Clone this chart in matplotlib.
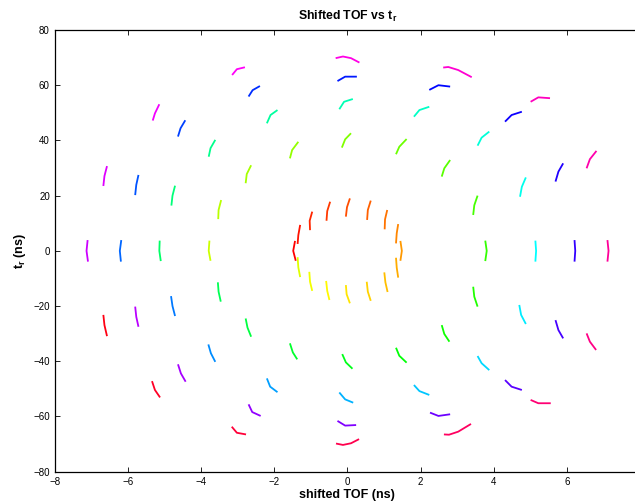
import numpy as np
import matplotlib
matplotlib.use('Agg')
import matplotlib.pyplot as plt
import matplotlib.colors as mcolors

plt.rcParams['font.family'] = ['Liberation Sans', 'DejaVu Sans']
plt.rcParams['mathtext.fontset'] = 'custom'
plt.rcParams['mathtext.rm'] = 'Liberation Sans:bold'
plt.rcParams['mathtext.it'] = 'Liberation Sans:bold'
plt.rcParams['mathtext.default'] = 'rm'

# each arc: points (shifted TOF, t_r)
# order in a ring: left, upper arcs left->right, right, lower arcs right->left
ring0 = [
    [(-1.43, 3.6), (-1.48, 0.0), (-1.41, -3.6)],
    [(-1.36, 2.5), (-1.34, 5.7), (-1.29, 9.4)],
    [(-1.02, 7.5), (-1.03, 10.9), (-0.96, 14.2)],
    [(-0.57, 10.9), (-0.55, 14.4), (-0.47, 17.8)],
    [(-0.04, 12.4), (-0.01, 15.8), (0.07, 19.0)],
    [(0.54, 11.2), (0.56, 14.8), (0.64, 18.2)],
    [(1.02, 7.8), (1.03, 11.4), (1.09, 14.8)],
    [(1.33, 2.7), (1.35, 6.4), (1.39, 9.7)],
    [(1.45, 3.6), (1.49, 0.0), (1.45, -3.6)],
    [(1.33, -2.5), (1.35, -6.1), (1.39, -9.7)],
    [(1.01, -7.8), (1.04, -11.4), (1.10, -14.9)],
    [(0.53, -11.2), (0.56, -14.8), (0.64, -18.1)],
    [(-0.04, -12.4), (-0.02, -15.7), (0.07, -19.0)],
    [(-0.58, -10.9), (-0.55, -14.5), (-0.49, -17.8)],
    [(-1.04, -7.6), (-1.02, -11.2), (-0.96, -14.5)],
    [(-1.36, -2.3), (-1.34, -6.0), (-1.29, -9.5)],
]
ring1 = [
    [(-3.77, 3.7), (-3.79, 0.0), (-3.74, -3.6)],
    [(-3.53, 11.5), (-3.52, 14.8), (-3.45, 18.4)],
    [(-2.78, 24.5), (-2.75, 27.8), (-2.63, 31.0)],
    [(-1.57, 33.5), (-1.51, 36.5), (-1.34, 39.5)],
    [(-0.15, 37.4), (-0.06, 40.4), (0.10, 42.6)],
    [(1.33, 35.0), (1.42, 37.7), (1.62, 40.5)],
    [(2.58, 26.9), (2.65, 29.9), (2.81, 32.9)],
    [(3.44, 13.0), (3.47, 16.5), (3.56, 20.0)],
    [(3.77, 3.7), (3.81, 0.0), (3.77, -3.7)],
    [(3.44, -13.0), (3.47, -16.6), (3.56, -20.2)],
    [(2.58, -26.9), (2.65, -30.1), (2.79, -32.9)],
    [(1.33, -35.1), (1.42, -38.0), (1.62, -40.5)],
    [(-0.14, -37.4), (-0.04, -40.4), (0.14, -42.7)],
    [(-1.57, -33.5), (-1.49, -36.8), (-1.37, -39.3)],
    [(-2.78, -24.5), (-2.73, -27.8), (-2.63, -31.1)],
    [(-3.54, -11.4), (-3.52, -14.8), (-3.46, -18.4)],
]
ring2 = [
    [(-5.13, 3.7), (-5.14, 0.0), (-5.10, -3.7)],
    [(-4.81, 16.4), (-4.78, 20.0), (-4.71, 23.6)],
    [(-3.79, 34.1), (-3.74, 37.2), (-3.61, 40.2)],
    [(-2.20, 46.2), (-2.10, 49.2), (-1.91, 51.0)],
    [(-0.22, 51.3), (-0.09, 54.0), (0.15, 55.0)],
    [(1.82, 48.6), (1.97, 51.0), (2.24, 52.2)],
    [(3.56, 38.1), (3.67, 41.0), (3.88, 43.2)],
    [(4.72, 19.6), (4.77, 23.2), (4.88, 26.6)],
    [(5.14, 3.7), (5.16, 0.0), (5.14, -3.9)],
    [(4.70, -19.6), (4.75, -23.2), (4.88, -26.5)],
    [(3.56, -38.1), (3.67, -40.7), (3.88, -43.2)],
    [(1.82, -48.6), (1.97, -50.8), (2.24, -52.2)],
    [(-0.22, -51.3), (-0.06, -53.8), (0.16, -55.0)],
    [(-2.20, -46.2), (-2.11, -49.2), (-1.91, -51.2)],
    [(-3.80, -33.9), (-3.73, -37.1), (-3.61, -40.2)],
    [(-4.82, -16.4), (-4.78, -20.0), (-4.71, -23.6)],
]
ring3 = [
    [(-6.18, 3.9), (-6.22, 0.0), (-6.19, -3.9)],
    [(-5.80, 20.2), (-5.77, 23.9), (-5.71, 27.5)],
    [(-4.63, 41.4), (-4.56, 44.4), (-4.43, 47.3)],
    [(-2.70, 55.9), (-2.59, 58.2), (-2.39, 59.7)],
    [(-0.27, 61.5), (-0.06, 63.1), (0.26, 63.1)],
    [(2.24, 58.3), (2.49, 60.0), (2.81, 59.5)],
    [(4.31, 46.8), (4.49, 49.2), (4.77, 50.4)],
    [(5.69, 25.1), (5.77, 28.7), (5.90, 31.7)],
    [(6.21, 3.9), (6.23, 0.0), (6.21, -3.9)],
    [(5.69, -25.1), (5.77, -28.7), (5.90, -31.7)],
    [(4.31, -46.8), (4.49, -49.2), (4.77, -50.4)],
    [(2.26, -58.6), (2.49, -59.8), (2.81, -59.2)],
    [(-0.27, -61.6), (-0.06, -63.3), (0.24, -63.1)],
    [(-2.70, -55.6), (-2.60, -58.4), (-2.37, -59.8)],
    [(-4.63, -41.1), (-4.55, -44.4), (-4.42, -47.4)],
    [(-5.80, -20.2), (-5.77, -23.9), (-5.71, -27.5)],
]
ring4 = [
    [(-7.10, 3.9), (-7.13, 0.0), (-7.09, -3.9)],
    [(-6.67, 23.5), (-6.64, 27.1), (-6.57, 30.7)],
    [(-5.32, 47.2), (-5.26, 49.8), (-5.14, 53.1)],
    [(-3.15, 63.7), (-3.02, 65.8), (-2.80, 66.5)],
    [(-0.32, 69.8), (-0.12, 70.4), (0.10, 69.8), (0.33, 68.2)],
    [(2.62, 66.4), (2.76, 66.6), (3.03, 65.5), (3.40, 62.9)],
    [(5.01, 54.0), (5.22, 55.6), (5.54, 55.3)],
    [(6.54, 29.9), (6.63, 33.2), (6.81, 36.2)],
    [(7.11, 3.9), (7.14, 0.0), (7.11, -3.9)],
    [(6.54, -29.9), (6.63, -32.9), (6.80, -35.9)],
    [(5.01, -54.0), (5.22, -55.2), (5.56, -55.2)],
    [(2.64, -66.5), (2.78, -66.6), (3.03, -65.5), (3.38, -62.7)],
    [(-0.31, -69.8), (-0.12, -70.3), (0.10, -69.7), (0.32, -68.2)],
    [(-3.16, -63.7), (-3.02, -65.9), (-2.77, -66.5)],
    [(-5.34, -47.2), (-5.26, -50.4), (-5.12, -53.1)],
    [(-6.67, -23.2), (-6.64, -26.9), (-6.57, -30.9)],
]
rings = [ring0, ring1, ring2, ring3, ring4]

x_ticks = [-8, -6, -4, -2, 0, 2, 4, 6]
y_ticks = [-80, -60, -40, -20, 0, 20, 40, 60, 80]

fig = plt.figure(figsize=(6.35, 5.03), dpi=100)
ax = fig.add_axes([54.7 / 635, 31.3 / 503, 585.3 / 635, 441.7 / 503])

n_arcs = sum(len(r) for r in rings)
k = 0
for ring in rings:
    for arc in ring:
        xs = [p[0] for p in arc]
        ys = [p[1] for p in arc]
        c = mcolors.hsv_to_rgb((k / n_arcs, 1.0, 1.0))
        ax.plot(xs, ys, '-', color=c, lw=1.3,
                solid_capstyle='butt', solid_joinstyle='round')
        k += 1

ax.set_xlim(-8, 8)
ax.set_ylim(-80, 80)
ax.set_xticks(x_ticks)
ax.set_yticks(y_ticks)
ax.tick_params(direction='in', length=3.6, width=0.6, labelsize=7,
               top=True, right=True, pad=3.5)
for s in ax.spines.values():
    s.set_linewidth(0.9)

ax.set_title(r'Shifted TOF vs t$_{r}$', fontsize=8.8, fontweight='bold', pad=7)
ax.set_xlabel('shifted TOF (ns)', fontsize=9, fontweight='bold', labelpad=2)
ax.set_ylabel(r't$_{r}$ (ns)', fontsize=9, fontweight='bold', labelpad=4)

fig.savefig('out.png', dpi=100)
